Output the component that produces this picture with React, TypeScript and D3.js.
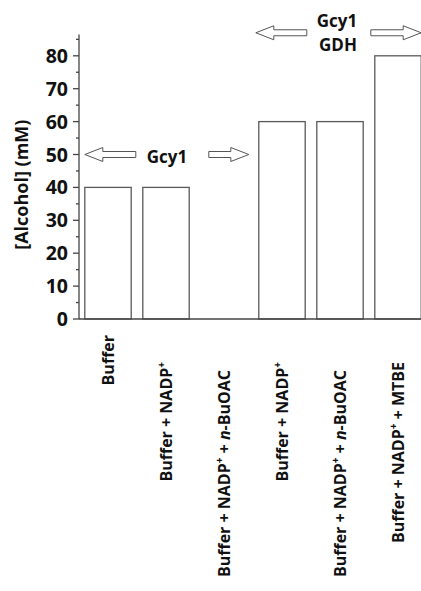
import React from 'react';
import * as d3 from 'd3';

// values
const categories = [
  'Buffer',
  'Buffer + NADP+',
  'Buffer + NADP+ + n-BuOAC',
  'Buffer + NADP+',
  'Buffer + NADP+ + n-BuOAC',
  'Buffer + NADP+ + MTBE',
];
const alcohol = [40, 40, 0, 60, 60, 80];
const majorTicks = [0, 10, 20, 30, 40, 50, 60, 70, 80];
const minorTicks = [5, 15, 25, 35, 45, 55, 65, 75, 85];
// top of each rotated label (the figure has them slightly staggered)
const labelTop = [335, 362, 370, 362, 370, 362];

const W = 421;
const H = 591;
const axisX = 79;
const baseY = 319;
const FONT = '"Open Sans", "DejaVu Sans", sans-serif';

// renders "NADP+" with superscript plus and "n-" italic
function richLabel(s) {
  const parts = s.split(/(NADP\+|n-)/).filter(p => p !== '');
  return parts.map((p, i) => {
    if (p === 'NADP+') {
      return (
        <React.Fragment key={i}>
          NADP
          <tspan baselineShift="super" fontSize={10}>+</tspan>
        </React.Fragment>
      );
    }
    if (p === 'n-') {
      return (
        <React.Fragment key={i}>
          <tspan fontStyle="italic">n</tspan>-
        </React.Fragment>
      );
    }
    return <React.Fragment key={i}>{p}</React.Fragment>;
  });
}

function arrowPath(tail, tip, y) {
  const dir = tip > tail ? 1 : -1;
  const headLen = 18;
  const shaft = 3;
  const head = 7;
  const hx = tip - dir * headLen;
  return `M${tail},${y - shaft}L${hx},${y - shaft}L${hx},${y - head}L${tip},${y}L${hx},${y + head}L${hx},${y + shaft}L${tail},${y + shaft}Z`;
}

export default function App() {
  const x = d3
    .scaleBand()
    .domain(d3.range(categories.length))
    .range([axisX, axisX + 348])
    .paddingInner(0.2)
    .paddingOuter(0.1);
  const y = d3.scaleLinear().domain([0, 86.5]).range([baseY, baseY - 86.5 * 3.29]);

  const bw = x.bandwidth();
  const midY = y(50);
  const topY = y(87);

  const arrows = [
    [x(0) + 51, x(0), midY],
    [x(2) + 8, x(3) - 10, midY],
    [x(3) + 48, x(3) - 3, topY],
    [x(5) - 4, x(5) + bw, topY],
  ];

  return (
    <svg width={W} height={H} style={{ position: 'absolute', left: 0, top: 0, background: '#fff' }}>
      {/* bars */}
      {alcohol.map((v, i) => (
        <rect
          key={i}
          x={x(i)}
          y={y(v)}
          width={bw}
          height={baseY - y(v)}
          fill="#fff"
          stroke="#595959"
          strokeWidth={1.3}
        />
      ))}

      {/* axes */}
      <line x1={axisX} x2={axisX} y1={y(86.5)} y2={baseY} stroke="#444" strokeWidth={1.3} />
      <line x1={axisX} x2={W} y1={baseY} y2={baseY} stroke="#444" strokeWidth={1.3} />
      {majorTicks.map(t => (
        <g key={t}>
          <line x1={axisX - 6} x2={axisX} y1={y(t)} y2={y(t)} stroke="#444" strokeWidth={1.3} />
          <text
            x={axisX - 11}
            y={y(t)}
            dy="0.36em"
            textAnchor="end"
            fontFamily={FONT}
            fontWeight="bold"
            fontSize={19.5}
            fill="#111"
          >
            {t}
          </text>
        </g>
      ))}
      {minorTicks.map(t => (
        <line key={t} x1={axisX - 3} x2={axisX} y1={y(t)} y2={y(t)} stroke="#444" strokeWidth={1.3} />
      ))}

      {/* y title */}
      <text
        transform={`translate(22,${(y(0) + y(86.5)) / 2 + 8}) rotate(-90)`}
        textAnchor="middle"
        dy="0.36em"
        fontFamily={FONT}
        fontWeight="bold"
        fontSize={18}
        fill="#111"
      >
        [Alcohol] (mM)
      </text>

      {/* category labels */}
      {categories.map((c, i) => (
        <text
          key={i}
          transform={`translate(${x(i) + bw / 2},${labelTop[i]}) rotate(-90)`}
          textAnchor="end"
          dy="0.36em"
          fontFamily={FONT}
          fontWeight="bold"
          fontSize={16}
          fill="#111"
        >
          {richLabel(c)}
        </text>
      ))}

      {/* enzyme annotations */}
      {arrows.map((a, i) => (
        <path key={i} d={arrowPath(a[0], a[1], a[2])} fill="#fff" stroke="#555" strokeWidth={1} />
      ))}
      <text x={167} y={163} textAnchor="middle" fontFamily={FONT} fontWeight="bold" fontSize={17} fill="#111">
        Gcy1
      </text>
      <text x={337} y={27} textAnchor="middle" fontFamily={FONT} fontWeight="bold" fontSize={17} fill="#111">
        Gcy1
      </text>
      <text x={338} y={51} textAnchor="middle" fontFamily={FONT} fontWeight="bold" fontSize={17} fill="#111">
        GDH
      </text>
    </svg>
  );
}
